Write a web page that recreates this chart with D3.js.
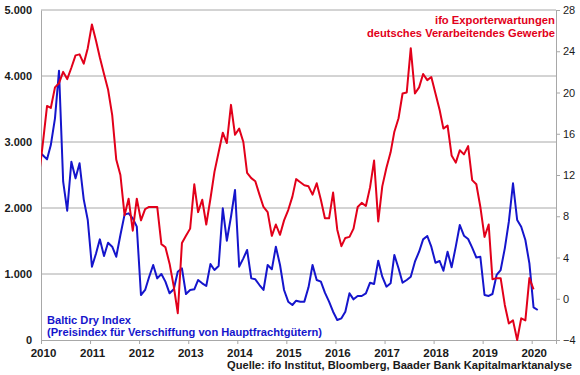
<!DOCTYPE html>
<html>
<head>
<meta charset="utf-8">
<script src="https://cdn.jsdelivr.net/npm/d3@7"></script>
<style>
    body { margin: 0; background: #fff; }
    svg { font-family: Arial, "Liberation Sans", sans-serif; }
</style>
</head>
<body>
<div id="chart"></div>
<script>
// monthly values, first entry = Dec 2009
const ifoValues = [11.7,
    15.1, 18.7, 18.5, 20.5, 20.9, 22.0, 21.3, 22.4, 23.6, 23.7, 22.8, 24.3,
    26.6, 25.0, 23.4, 21.8, 20.3, 17.8, 13.5, 12.0, 8.1, 9.7, 6.6, 9.7,
    7.6, 8.7, 8.9, 8.9, 8.9, 5.3, 5.0, 3.4, 1.2, -1.4, 5.4, 6.1,
    6.8, 11.1, 8.4, 9.6, 7.2, 9.7, 12.3, 14.2, 16.1, 15.1, 18.8, 15.9,
    16.5, 15.2, 12.2, 11.7, 11.4, 10.1, 8.9, 8.4, 6.1, 7.2, 6.2, 7.6,
    8.6, 9.9, 11.6, 11.3, 11.0, 10.9, 10.1, 11.2, 9.6, 7.8, 7.8, 10.3,
    6.7, 5.1, 5.9, 6.0, 6.8, 8.9, 9.3, 9.0, 10.8, 13.4, 7.5, 10.9,
    12.7, 14.2, 16.2, 17.5, 19.9, 20.0, 24.3, 19.9, 20.5, 21.8, 21.2, 21.5,
    19.9, 18.3, 16.5, 16.8, 13.9, 13.2, 14.4, 14.0, 14.8, 11.5, 11.1, 8.9,
    6.0, 7.2, 1.9, 2.0, 2.0, -0.6, -2.4, -2.1, -4.0, -1.9, -2.1, 2.0,
    0.9];

const bdiValues = [2860,
    2800, 2737, 2954, 3358, 4080, 2398, 1959, 2701, 2449, 2677, 2131, 1818,
    1111, 1313, 1525, 1273, 1474, 1414, 1262, 1591, 1900, 1919, 1843, 1717,
    682, 758, 950, 1136, 934, 1000, 884, 707, 768, 1035, 1086, 697,
    758, 768, 909, 859, 818, 1150, 1060, 1121, 1995, 1504, 1868, 2273,
    1111, 1237, 1364, 934, 919, 833, 758, 1136, 1071, 1414, 1136, 758,
    581, 530, 596, 581, 581, 798, 1136, 909, 884, 717, 581, 429,
    303, 328, 429, 707, 616, 667, 667, 707, 868, 848, 1202, 959,
    808, 859, 1288, 1086, 868, 909, 959, 1186, 1338, 1525, 1576, 1414,
    1171, 1197, 1050, 1338, 1101, 1414, 1742, 1580, 1530, 1400, 1250, 1260,
    682, 667, 697, 985, 1060, 1389, 1793, 2374, 1818, 1717, 1515, 1160,
    495, 455];

const yearTicks = [2010, 2011, 2012, 2013, 2014, 2015, 2016, 2017, 2018, 2019, 2020];
const bdiTicks = [0, 1000, 2000, 3000, 4000, 5000];
const ifoTicks = [-4, 0, 4, 8, 12, 16, 20, 24, 28];

class DualAxisChart {
    constructor(parentElement) {
        this.parentElement = parentElement;
        this.initVis();
    }

    initVis() {
        let vis = this;

        vis.margin = {top: 10, right: 24, bottom: 35, left: 41};
        vis.width = 580 - vis.margin.left - vis.margin.right;
        vis.height = 375 - vis.margin.top - vis.margin.bottom;

        vis.red = "#e2001a";
        vis.blue = "#1515cc";
        vis.grid = "#a8a8a8";

        vis.svg = d3.select("#" + vis.parentElement).append("svg")
            .attr("width", 580)
            .attr("height", 375)
            .append("g")
            .attr("transform", "translate(" + vis.margin.left + "," + vis.margin.top + ")");

        vis.svg.append("defs").append("clipPath")
            .attr("id", "clip")
            .append("rect")
            .attr("width", vis.width)
            .attr("height", vis.height + 1);

        // scales
        vis.x = d3.scaleTime()
            .domain([new Date(2010, 0, 1), new Date(2020, 5, 30)])
            .range([0, vis.width]);
        vis.yLeft = d3.scaleLinear().domain([0, 5000]).range([vis.height, 0]);
        vis.yRight = d3.scaleLinear().domain([-4, 28]).range([vis.height, 0]);

        vis.wrangleData();
    }

    wrangleData() {
        let vis = this;
        vis.ifo = ifoValues.map((v, i) => ({date: new Date(2009, 11 + i, 15), value: v}));
        vis.bdi = bdiValues.map((v, i) => ({date: new Date(2009, 11 + i, 15), value: v}));
        vis.updateVis();
    }

    updateVis() {
        let vis = this;
        let de = d3.formatLocale({decimal: ",", thousands: ".", grouping: [3], currency: ["", " €"]});

        // gridlines
        vis.svg.append("g")
            .selectAll("line")
            .data(bdiTicks.filter(d => d > 0))
            .enter().append("line")
            .attr("x1", 0).attr("x2", vis.width)
            .attr("y1", d => vis.yLeft(d)).attr("y2", d => vis.yLeft(d))
            .attr("stroke", vis.grid);

        // left axis
        let left = vis.svg.append("g")
            .call(d3.axisLeft(vis.yLeft).tickValues(bdiTicks).tickSize(0).tickPadding(9).tickFormat(de.format(",")));
        left.select(".domain").attr("stroke", vis.grid);
        left.selectAll("text")
            .attr("font-size", "11px").attr("font-weight", "bold").attr("fill", "#1a1a1a");

        // right axis
        let right = vis.svg.append("g")
            .attr("transform", "translate(" + vis.width + ",0)")
            .call(d3.axisRight(vis.yRight).tickValues(ifoTicks).tickSize(4).tickPadding(3));
        right.select(".domain").attr("stroke", vis.grid);
        right.selectAll("line").attr("stroke", vis.grid);
        right.selectAll("text")
            .attr("font-size", "11px").attr("fill", "#1a1a1a");

        // bottom axis
        let bottom = vis.svg.append("g")
            .attr("transform", "translate(0," + vis.height + ")")
            .call(d3.axisBottom(vis.x)
                .tickValues(yearTicks.map(y => new Date(y, 0, 1)))
                .tickSize(4).tickPadding(5)
                .tickFormat(d3.timeFormat("%Y")));
        bottom.select(".domain").attr("stroke", vis.grid);
        bottom.selectAll("line").attr("stroke", vis.grid);
        bottom.selectAll("text")
            .attr("dx", 2)
            .attr("font-size", "11.5px").attr("font-weight", "bold").attr("fill", "#1a1a1a");

        // lines
        let lineGroup = vis.svg.append("g").attr("clip-path", "url(#clip)");

        let ifoLine = d3.line()
            .x(d => vis.x(d.date))
            .y(d => vis.yRight(d.value));
        let bdiLine = d3.line()
            .x(d => vis.x(d.date))
            .y(d => vis.yLeft(d.value));

        lineGroup.append("path")
            .datum(vis.bdi)
            .attr("d", bdiLine)
            .attr("fill", "none")
            .attr("stroke", vis.blue)
            .attr("stroke-width", 2)
            .attr("stroke-linejoin", "round");

        lineGroup.append("path")
            .datum(vis.ifo)
            .attr("d", ifoLine)
            .attr("fill", "none")
            .attr("stroke", vis.red)
            .attr("stroke-width", 2)
            .attr("stroke-linejoin", "round");

        // labels (outside the translated group)
        let root = d3.select("#" + vis.parentElement).select("svg");
        let label = (txt, x, y, anchor, color, len, size) => root.append("text")
            .text(txt)
            .attr("x", x).attr("y", y)
            .attr("text-anchor", anchor)
            .attr("fill", color)
            .attr("font-size", size || "11.5px")
            .attr("font-weight", "bold")
            .attr("textLength", len)
            .attr("lengthAdjust", "spacingAndGlyphs");

        label("ifo Exporterwartungen", 555, 24, "end", vis.red, 120);
        label("deutsches Verarbeitendes Gewerbe", 555, 37, "end", vis.red, 188);
        label("Baltic Dry Index", 47, 324, "start", vis.blue, 84);
        label("(Preisindex für Verschiffung von Hauptfrachtgütern)", 47, 336, "start", vis.blue, 275);
        label("Quelle: ifo Institut, Bloomberg, Baader Bank Kapitalmarktanalyse", 227, 368.5, "start", "#1a1a1a", 345, "11px");
    }
}

new DualAxisChart("chart");
</script>
</body>
</html>
